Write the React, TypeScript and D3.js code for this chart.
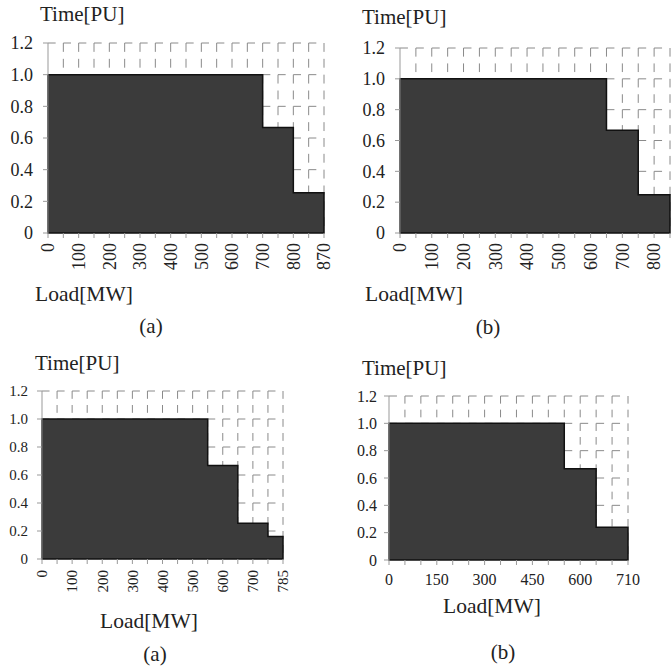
import React from "react";
import * as d3 from "d3";

// shared y axis values
const timeTicks = [0, 0.2, 0.4, 0.6, 0.8, 1.0, 1.2];

// top left (a)
const loadA1 = ["0", "50", "100", "150", "200", "250", "300", "350", "400", "450", "500", "550", "600", "650", "700", "750", "800", "850", "870"];
const labelsA1 = ["0", "100", "200", "300", "400", "500", "600", "700", "800", "870"];
const stepLoadA1 = ["0", "700", "800", "870"];
const stepTimeA1 = [1.0, 0.667, 0.255, 0.255];

// top right (b)
const loadB1 = ["0", "50", "100", "150", "200", "250", "300", "350", "400", "450", "500", "550", "600", "650", "700", "750", "800", "850"];
const labelsB1 = ["0", "100", "200", "300", "400", "500", "600", "700", "800"];
const stepLoadB1 = ["0", "650", "750", "850"];
const stepTimeB1 = [1.0, 0.667, 0.248, 0.248];

// bottom left (a)
const loadA2 = ["0", "50", "100", "150", "200", "250", "300", "350", "400", "450", "500", "550", "600", "650", "700", "750", "785"];
const labelsA2 = ["0", "100", "200", "300", "400", "500", "600", "700", "785"];
const stepLoadA2 = ["0", "550", "650", "750", "785"];
const stepTimeA2 = [1.0, 0.667, 0.256, 0.16, 0.16];

// bottom right (b)
const loadB2 = ["0", "50", "100", "150", "200", "250", "300", "350", "400", "450", "500", "550", "600", "650", "700", "710"];
const labelsB2 = ["0", "150", "300", "450", "600", "710"];
const stepLoadB2 = ["0", "550", "650", "710"];
const stepTimeB2 = [1.0, 0.667, 0.24, 0.24];

const FONT = "'Liberation Serif', 'DejaVu Serif', serif";
const TXT = "#222";
const GRID = "#8a8a8a";

type Box = { l: number; r: number; t: number; b: number };

function Panel(props: {
  cats: string[];
  labels: string[];
  stepLoad: string[];
  stepTime: number[];
  box: Box;
  rotate: boolean;
  tickFont: number;
  xLabelGap: number;
  yLabelGap: number;
  titleY: [number, number];
  titleX: [number, number];
  caption: [string, number, number];
}) {
  const { cats, labels, stepLoad, stepTime, box, rotate, tickFont } = props;
  const x = d3.scalePoint<string>().domain(cats).range([box.l, box.r]);
  const y = d3.scaleLinear().domain([0, 1.2]).range([box.b, box.t]);
  const step = x.step();
  const cellH = y(0) - y(0.2);

  const pts: [number, number][] = stepLoad.map((l, i) => [x(l) as number, y(stepTime[i])]);
  const area = d3
    .area<[number, number]>()
    .x((d) => d[0])
    .y0(y(0))
    .y1((d) => d[1])
    .curve(d3.curveStepAfter);

  return (
    <g fontFamily={FONT} fill={TXT}>
      {/* dashed grid */}
      {timeTicks.slice(1).map((t) => (
        <line key={"h" + t} x1={box.l} x2={box.r} y1={y(t)} y2={y(t)} stroke={GRID} strokeWidth={1} strokeDasharray={`${step / 2},${step / 2}`} />
      ))}
      {cats.slice(1).map((c) => (
        <line key={"v" + c} x1={x(c)} x2={x(c)} y1={y(1.2)} y2={y(0)} stroke={GRID} strokeWidth={1} strokeDasharray={`${cellH * 0.28},${cellH * 0.22}`} />
      ))}
      {/* load duration area */}
      <path d={area(pts) as string} fill="#3b3b3b" stroke="#111" strokeWidth={1.5} />
      {/* y axis */}
      <line x1={box.l} x2={box.l} y1={y(1.2)} y2={y(0)} stroke="#999" strokeWidth={1} />
      {timeTicks.map((t) => (
        <g key={"yt" + t}>
          <line x1={box.l - 5} x2={box.l} y1={y(t)} y2={y(t)} stroke="#999" />
          <text x={box.l - props.yLabelGap} y={y(t)} dy="0.35em" textAnchor="end" fontSize={tickFont}>
            {t === 0 ? "0" : t.toFixed(1)}
          </text>
        </g>
      ))}
      {/* x axis ticks */}
      {cats.map((c) => (
        <line key={"xt" + c} x1={x(c)} x2={x(c)} y1={y(0)} y2={y(0) + 5} stroke="#999" />
      ))}
      {labels.map((lab) =>
        rotate ? (
          <text
            key={"xl" + lab}
            transform={`translate(${x(lab)},${y(0) + props.xLabelGap}) rotate(-90)`}
            dy="0.35em"
            textAnchor="end"
            fontSize={tickFont}
          >
            {lab}
          </text>
        ) : (
          <text key={"xl" + lab} x={x(lab)} y={y(0) + props.xLabelGap} textAnchor="middle" fontSize={tickFont}>
            {lab}
          </text>
        )
      )}
      {/* titles */}
      <text x={props.titleY[0]} y={props.titleY[1]} fontSize={21}>Time[PU]</text>
      <text x={props.titleX[0]} y={props.titleX[1]} fontSize={21.5}>Load[MW]</text>
      <text x={props.caption[1]} y={props.caption[2]} textAnchor="middle" fontSize={21}>
        {props.caption[0]}
      </text>
    </g>
  );
}

export default function App() {
  return (
    <svg width={671} height={670} style={{ position: "absolute", left: 0, top: 0, background: "#fff" }}>
      <rect width={671} height={670} fill="#fff" />
      <Panel
        cats={loadA1}
        labels={labelsA1}
        stepLoad={stepLoadA1}
        stepTime={stepTimeA1}
        box={{ l: 48, r: 324, t: 43, b: 233 }}
        rotate={true}
        tickFont={18}
        xLabelGap={10}
        yLabelGap={15}
        titleY={[40, 21]}
        titleX={[35, 301]}
        caption={["(a)", 151, 333]}
      />
      <Panel
        cats={loadB1}
        labels={labelsB1}
        stepLoad={stepLoadB1}
        stepTime={stepTimeB1}
        box={{ l: 400, r: 670, t: 48, b: 233 }}
        rotate={true}
        tickFont={18}
        xLabelGap={10}
        yLabelGap={15}
        titleY={[362, 24]}
        titleX={[365, 301]}
        caption={["(b)", 488, 334]}
      />
      <Panel
        cats={loadA2}
        labels={labelsA2}
        stepLoad={stepLoadA2}
        stepTime={stepTimeA2}
        box={{ l: 42, r: 283, t: 391, b: 559 }}
        rotate={true}
        tickFont={15}
        xLabelGap={11}
        yLabelGap={14}
        titleY={[35, 370]}
        titleX={[100, 628]}
        caption={["(a)", 155, 661]}
      />
      <Panel
        cats={loadB2}
        labels={labelsB2}
        stepLoad={stepLoadB2}
        stepTime={stepTimeB2}
        box={{ l: 389, r: 628, t: 396, b: 560 }}
        rotate={false}
        tickFont={16}
        xLabelGap={25}
        yLabelGap={12}
        titleY={[362, 375]}
        titleX={[443, 613]}
        caption={["(b)", 503, 659]}
      />
    </svg>
  );
}
